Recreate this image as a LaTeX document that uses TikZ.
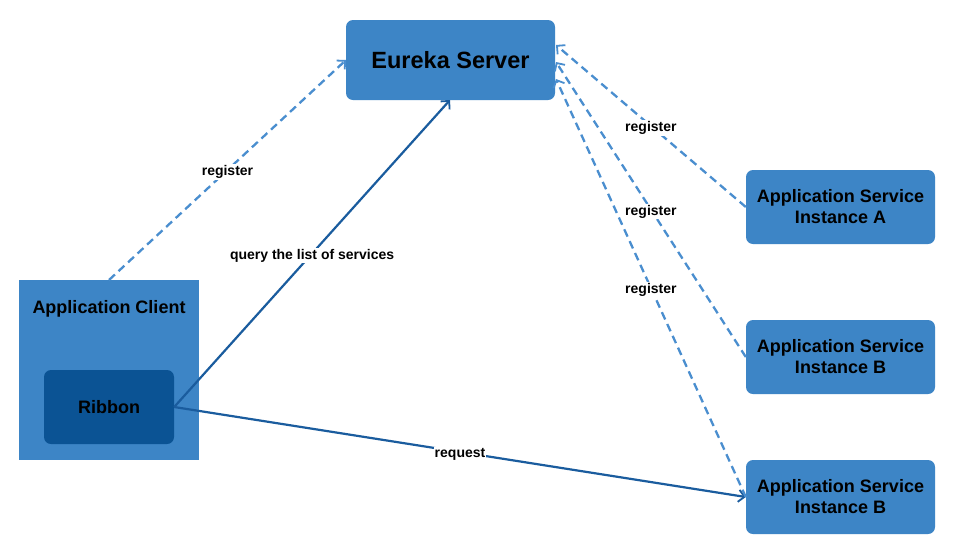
\documentclass[tikz,border=0pt]{standalone}
\usepackage{fontspec}
\setmainfont{Liberation Sans}
\usetikzlibrary{arrows.meta}
\definecolor{boxblue}{HTML}{3D85C6}
\definecolor{darkblue}{HTML}{0B5394}
\definecolor{lineblue}{HTML}{4A8ECF}
\definecolor{solidblue}{HTML}{1A5C9E}
\begin{document}
\begin{tikzpicture}[x=1pt,y=-1pt,
  box/.style={fill=boxblue,draw=none,rounded corners=7pt,inner sep=0pt,font=\bfseries\fontsize{18}{21}\selectfont,align=center,text=black},
  lbl/.style={fill=white,inner sep=1pt,font=\bfseries\fontsize{14}{16}\selectfont,text=black,yshift=-2pt},
  dashedarrow/.style={draw=lineblue,line width=2.3pt,dash pattern=on 8pt off 5pt,-{Straight Barb[length=6pt,width=12pt,line width=1.8pt]}},
  solidarrow/.style={draw=solidblue,line width=2.2pt,-{Straight Barb[length=6pt,width=12pt,line width=1.8pt]}}]
\useasboundingbox (0,0) rectangle (955,555);
\fill[white] (0,0) rectangle (955,555);
% Eureka server
\node[box,minimum width=209pt,minimum height=80pt,font=\bfseries\fontsize{23.5}{26}\selectfont] (eureka) at (450.5,60) {Eureka Server};
% Application client
\node[fill=boxblue,minimum width=180pt,minimum height=180pt,inner sep=0pt] (client) at (109,370) {};
\node[font=\bfseries\fontsize{18}{21}\selectfont] (clientlbl) at (109,309) {Application Client};
\node[box,fill=darkblue,minimum width=130pt,minimum height=74pt] (ribbon) at (109,407) {Ribbon};
% instances
\node[box,minimum width=189pt,minimum height=74pt] (instA) at (840.5,207) {Application Service\\Instance A};
\node[box,minimum width=189pt,minimum height=74pt] (instB1) at (840.5,357) {Application Service\\Instance B};
\node[box,minimum width=189pt,minimum height=74pt] (instB2) at (840.5,497) {Application Service\\Instance B};
% coordinates on Eureka
\coordinate (eL) at (346,60);
\coordinate (eB) at (450,100);
\coordinate (eR1) at (556,45);
\coordinate (eR2) at (556,62);
\coordinate (eR3) at (556,79);
\coordinate (cT) at (109,280);
% connectors
\draw[dashedarrow] (cT) -- node[lbl]{register} (eL);
\draw[solidarrow] (ribbon.east) -- node[lbl]{query the list of services} (eB);
\draw[solidarrow] (ribbon.east) -- node[lbl]{request} (instB2.west);
\draw[dashedarrow] (instA.west) -- node[lbl]{register} (eR1);
\draw[dashedarrow] (instB1.west) -- node[lbl]{register} (eR2);
\draw[dashedarrow] (instB2.west) -- node[lbl]{register} (eR3);
\end{tikzpicture}
\end{document}
